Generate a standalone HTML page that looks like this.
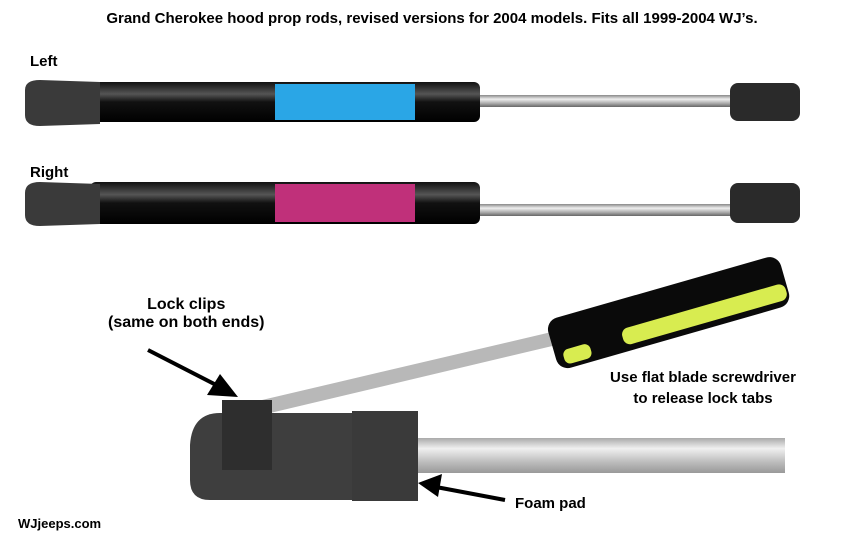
<!DOCTYPE html>
<html><head><style>
body{margin:0;width:864px;height:540px;background:#fff;position:relative;overflow:hidden;font-family:"Liberation Sans",sans-serif;font-weight:bold;}
.t{position:absolute;color:#000;white-space:nowrap}
</style></head><body>
<div class="t" style="left:0;width:864px;text-align:center;top:10px;font-size:15px">Grand Cherokee hood prop rods, revised versions for 2004 models. Fits all 1999-2004 WJ’s.</div>
<div class="t" style="left:30px;top:53px;font-size:15px">Left</div>
<div class="t" style="left:30px;top:164px;font-size:15px">Right</div>
<svg width="864" height="540" style="position:absolute;left:0;top:0">
<defs>
<linearGradient id="rod" x1="0" y1="0" x2="0" y2="1"><stop offset="0" stop-color="#888"/><stop offset=".35" stop-color="#eee"/><stop offset=".7" stop-color="#aaa"/><stop offset="1" stop-color="#666"/></linearGradient>
<linearGradient id="cyl" x1="0" y1="0" x2="0" y2="1"><stop offset="0" stop-color="#111"/><stop offset=".3" stop-color="#555"/><stop offset=".5" stop-color="#111"/><stop offset="1" stop-color="#000"/></linearGradient>
<linearGradient id="big" x1="0" y1="0" x2="0" y2="1"><stop offset="0" stop-color="#aaa"/><stop offset=".3" stop-color="#f0f0f0"/><stop offset=".7" stop-color="#bbb"/><stop offset="1" stop-color="#999"/></linearGradient>
</defs>
<!-- top strut -->
<rect x="470" y="95" width="265" height="12" fill="url(#rod)"/>
<rect x="90" y="82" width="390" height="40" rx="6" fill="url(#cyl)"/>
<rect x="275" y="84" width="140" height="36" fill="#2aa6e6"/>
<path d="M25 90 Q25 80 40 80 L100 82 L100 124 L40 126 Q25 126 25 115Z" fill="#3a3a3a"/>
<rect x="730" y="83" width="70" height="38" rx="8" fill="#2a2a2a"/>
<!-- bottom strut -->
<rect x="470" y="204" width="265" height="12" fill="url(#rod)"/>
<rect x="90" y="182" width="390" height="42" rx="6" fill="url(#cyl)"/>
<rect x="275" y="184" width="140" height="38" fill="#c0307a"/>
<path d="M25 193 Q25 182 40 182 L100 184 L100 224 L40 226 Q25 226 25 215Z" fill="#3a3a3a"/>
<rect x="730" y="183" width="70" height="40" rx="8" fill="#2a2a2a"/>
<!-- big rod -->
<rect x="410" y="438" width="375" height="35" fill="url(#big)"/>
<!-- shaft -->
<polygon points="262,400 560,330 565,343 266,414" fill="#b8b8b8"/>
<!-- handle -->
<g transform="translate(552,345) rotate(-16)">
<rect x="0" y="-25" width="242" height="52" rx="12" fill="#0a0a0a"/>
<rect x="70" y="4" width="170" height="17" rx="7" fill="#d8ec50"/>
<rect x="8" y="8" width="28" height="15" rx="6" fill="#d8ec50"/>
</g>
<!-- cap -->
<path d="M190 445 Q192 413 220 413 L354 413 L354 500 L210 500 Q190 500 190 480Z" fill="#3e3e3e"/>
<rect x="222" y="400" width="50" height="70" fill="#2e2e2e"/>
<rect x="352" y="411" width="66" height="90" fill="#3a3a3a"/>
<!-- arrows -->
<line x1="148" y1="350" x2="222" y2="388" stroke="#000" stroke-width="4"/>
<polygon points="238,397 207,395 220,374" fill="#000"/>
<line x1="505" y1="500" x2="436" y2="487" stroke="#000" stroke-width="4"/>
<polygon points="418,483 442,474 438,497" fill="#000"/>
</svg>
<div class="t" style="left:108px;top:296px;font-size:16px;text-align:center">Lock clips<br>(same on both ends)</div>
<div class="t" style="left:583px;width:240px;text-align:center;top:367px;font-size:15px;line-height:21px">Use flat blade screwdriver<br>to release lock tabs</div>
<div class="t" style="left:515px;top:495px;font-size:15px">Foam pad</div>
<div class="t" style="left:18px;top:516px;font-size:13px">WJjeeps.com</div>
</body></html>
